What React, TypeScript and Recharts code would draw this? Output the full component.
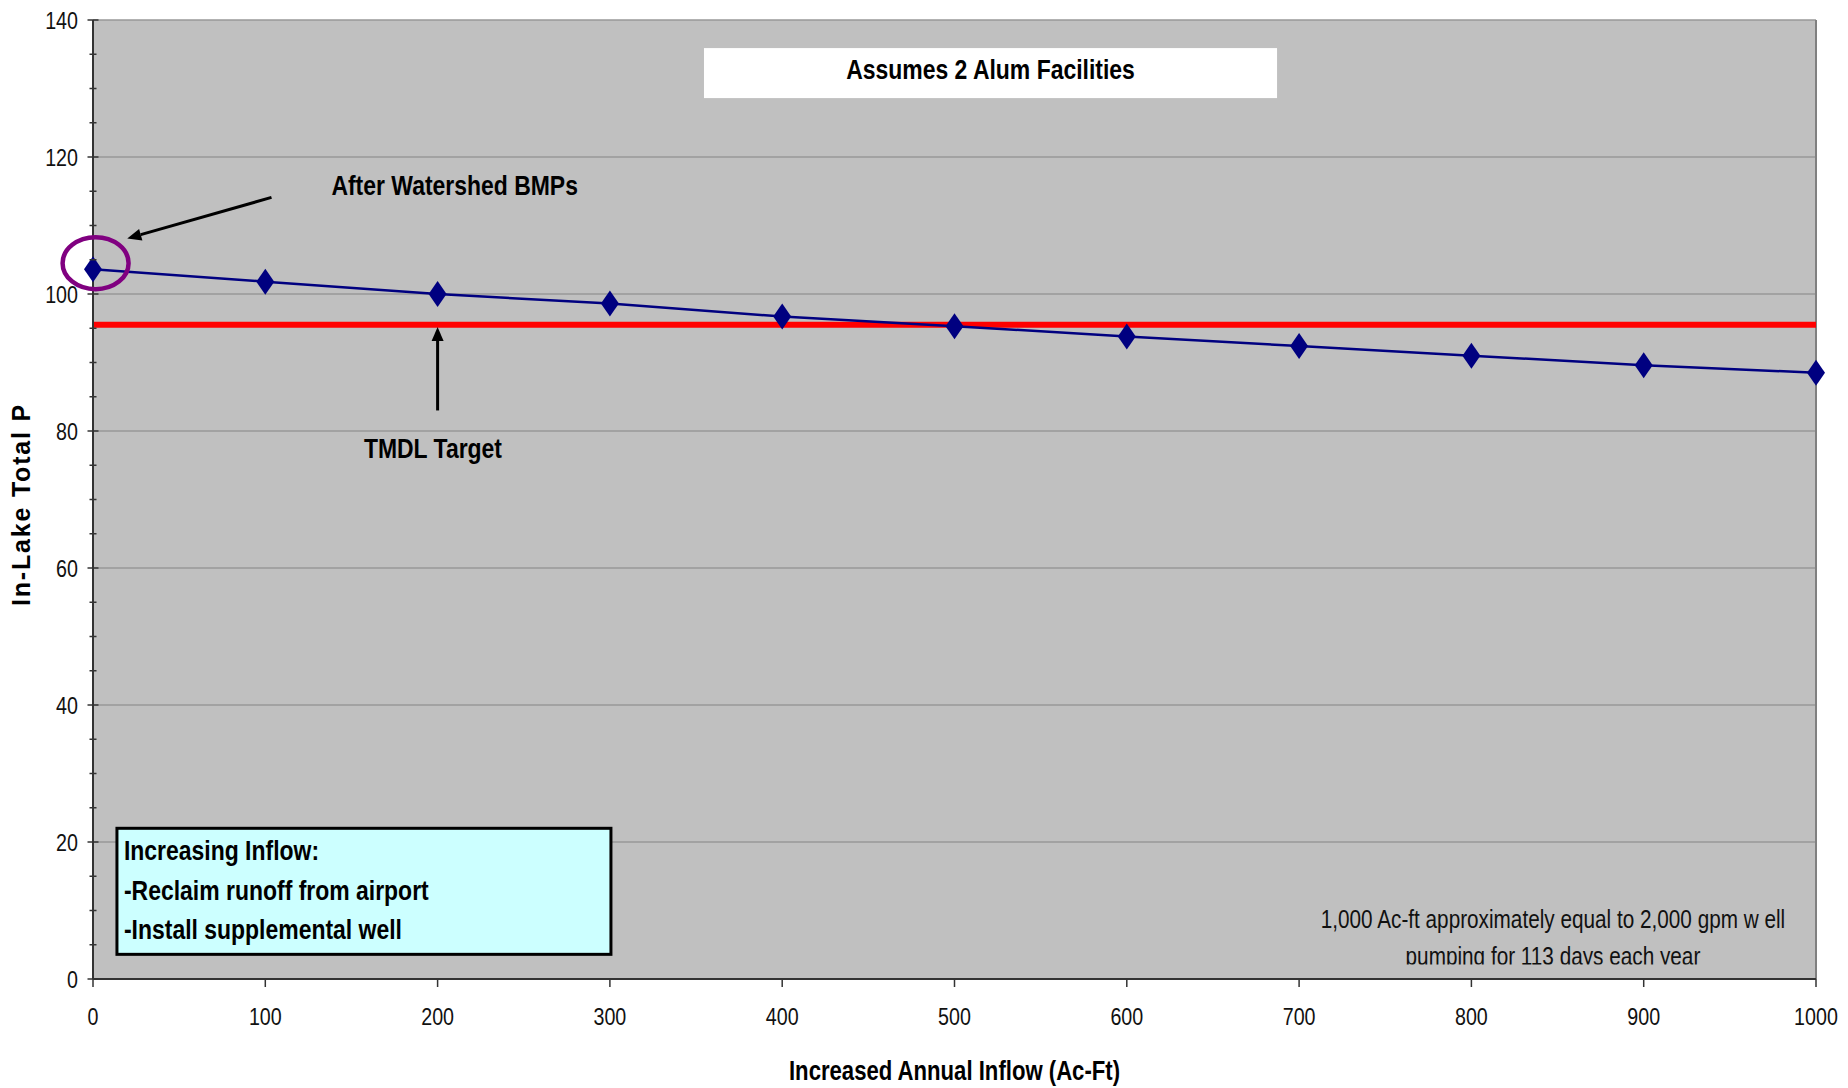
import React from 'react';
import {
  LineChart,
  Line,
  XAxis,
  YAxis,
  CartesianGrid,
  ReferenceLine,
  ReferenceDot,
  ReferenceArea,
  Label
} from 'recharts';

// increased annual inflow (ac-ft) vs in-lake total P
const inflow = [0, 100, 200, 300, 400, 500, 600, 700, 800, 900, 1000];
const totalP = [103.6, 101.8, 100.0, 98.6, 96.7, 95.3, 93.8, 92.4, 91.0, 89.6, 88.5];
const tmdlTarget = 95.5;

const xTicks = [0, 100, 200, 300, 400, 500, 600, 700, 800, 900, 1000];
const yMajorTicks = [0, 20, 40, 60, 80, 100, 120, 140];
const yAllTicks = [0, 5, 10, 15, 20, 25, 30, 35, 40, 45, 50, 55, 60, 65, 70, 75, 80, 85, 90, 95, 100, 105, 110, 115, 120, 125, 130, 135, 140];

const titleText = 'Assumes 2 Alum Facilities';
const bmpText = 'After Watershed BMPs';
const targetText = 'TMDL Target';
const infoLines = ['Increasing Inflow:', '-Reclaim runoff from airport', '-Install supplemental well'];
const noteLines = ['1,000 Ac-ft approximately equal to 2,000 gpm w ell', 'pumping for 113 days each year'];

const data = inflow.map((x, i) => ({ inflow: x, totalP: totalP[i] }));

const FONT = '"Liberation Sans", Arial, sans-serif';
const Y_TICK_GAP = 15;

// no Arial Narrow here, so squeeze Liberation Sans horizontally instead
function NText({ x, y, anchor = 'start', size, bold = false, fill = '#000', children }: any) {
  return (
    <text
      transform={`translate(${x},${y}) scale(0.82,1)`}
      x={0}
      y={0}
      dy="0.36em"
      textAnchor={anchor}
      fontSize={size}
      fontWeight={bold ? 'bold' : 'normal'}
      fontFamily={FONT}
      fill={fill}
    >
      {children}
    </text>
  );
}

function Diamond(props: any) {
  const { cx, cy } = props;
  if (cx == null || cy == null) return null;
  return (
    <polygon
      points={`${cx},${cy - 13} ${cx + 9},${cy} ${cx},${cy + 13} ${cx - 9},${cy}`}
      fill="#000080"
    />
  );
}

function YTick(props: any) {
  const { x, y, payload } = props;
  const ax = x + Y_TICK_GAP;
  const major = yMajorTicks.includes(payload.value);
  const len = major ? 5.5 : 3.5;
  return (
    <g>
      <line x1={ax - len} x2={ax + len} y1={y} y2={y} stroke="#333" strokeWidth={1.5} />
      {major && (
        <NText x={x} y={y} anchor="end" size={24} fill="#111">
          {payload.value}
        </NText>
      )}
    </g>
  );
}

function XTick(props: any) {
  const { x, y, payload } = props;
  return (
    <NText x={x} y={y + 7} anchor="middle" size={24} fill="#111">
      {payload.value}
    </NText>
  );
}

function Arrow(props: any) {
  const { x1, y1, x2, y2 } = props;
  const ang = Math.atan2(y2 - y1, x2 - x1);
  const c = Math.cos(ang);
  const s = Math.sin(ang);
  const bx = x2 - 14 * c;
  const by = y2 - 14 * s;
  return (
    <g>
      <line x1={x1} y1={y1} x2={bx} y2={by} stroke="#000" strokeWidth={3} />
      <polygon
        points={`${x2},${y2} ${bx - 6 * s},${by + 6 * c} ${bx + 6 * s},${by - 6 * c}`}
        fill="#000"
      />
    </g>
  );
}

function boldText(text: string) {
  return (props: any) => (
    <NText x={props.cx} y={props.cy} anchor="middle" size={28} bold>
      {text}
    </NText>
  );
}

function Ellipse(props: any) {
  return <ellipse cx={props.cx} cy={props.cy} rx={33} ry={26} fill="none" stroke="#800080" strokeWidth={4.5} />;
}

function TitleBox(props: any) {
  const { x, y, width, height } = props;
  return (
    <g>
      <rect x={x} y={y} width={width} height={height} fill="#fff" />
      <NText x={x + width / 2} y={y + height / 2 - 4} anchor="middle" size={28} bold>
        {titleText}
      </NText>
    </g>
  );
}

function InfoBox(props: any) {
  const { x, y, width, height } = props;
  return (
    <g>
      <rect x={x} y={y} width={width} height={height} fill="#CCFFFF" stroke="#000" strokeWidth={3} />
      {infoLines.map((t, i) => (
        <NText key={t} x={x + 7} y={y + 22 + i * 39.5} size={28} bold>
          {t}
        </NText>
      ))}
    </g>
  );
}

function NoteBox(props: any) {
  const { x, y, width, height } = props;
  return (
    <svg x={x} y={y} width={width} height={height} overflow="hidden">
      {noteLines.map((t, i) => (
        <NText key={t} x={width / 2 + 4} y={22 + i * 37} anchor="middle" size={25.3} fill="#111">
          {t}
        </NText>
      ))}
    </svg>
  );
}

function YTitle(props: any) {
  const { viewBox } = props;
  const cx = viewBox.x + 21;
  const cy = viewBox.y + viewBox.height / 2 + 5;
  return (
    <text
      x={cx}
      y={cy}
      dy="0.36em"
      textAnchor="middle"
      transform={`rotate(-90, ${cx}, ${cy})`}
      fontSize={25}
      fontWeight="bold"
      letterSpacing={1.8}
      fontFamily={FONT}
      fill="#000"
    >
      In-Lake Total P
    </text>
  );
}

function XTitle(props: any) {
  const { viewBox } = props;
  return (
    <NText x={viewBox.x + viewBox.width / 2} y={viewBox.y + 91} anchor="middle" size={27} bold>
      Increased Annual Inflow (Ac-Ft)
    </NText>
  );
}

export default function App() {
  return (
    <div style={{ position: 'absolute', left: 0, top: 0, background: '#fff' }}>
      <LineChart width={1848} height={1088} data={data} margin={{ top: 20, right: 32, bottom: 0, left: 0 }}>
        <CartesianGrid
          fill="#C0C0C0"
          stroke="#999"
          strokeWidth={1.5}
          vertical={false}
          horizontalValues={[20, 40, 60, 80, 100, 120, 140]}
        />
        <XAxis
          dataKey="inflow"
          type="number"
          domain={[0, 1000]}
          ticks={xTicks}
          interval={0}
          height={109}
          tickSize={8}
          tickMargin={22}
          axisLine={{ stroke: '#333', strokeWidth: 2 }}
          tickLine={{ stroke: '#333', strokeWidth: 1.5 }}
          tick={<XTick />}
        >
          <Label content={XTitle} />
        </XAxis>
        <YAxis
          type="number"
          domain={[0, 140]}
          ticks={yAllTicks}
          interval={0}
          width={93}
          tickSize={0}
          tickMargin={Y_TICK_GAP}
          tickLine={false}
          axisLine={{ stroke: '#333', strokeWidth: 2 }}
          tick={<YTick />}
        >
          <Label content={YTitle} />
        </YAxis>
        <ReferenceLine x={1000} stroke="#808080" strokeWidth={2} />
        <ReferenceLine y={tmdlTarget} stroke="#FF0000" strokeWidth={6} />
        <ReferenceArea x1={354.6} x2={687.2} y1={128.6} y2={135.9} shape={TitleBox} />
        <ReferenceArea x1={13.9} x2={300.6} y1={3.6} y2={22.0} shape={InfoBox} />
        <ReferenceArea x1={690} x2={1000} y1={2.1} y2={12} shape={NoteBox} />
        <ReferenceLine
          segment={[{ x: 103.6, y: 114.1 }, { x: 19.9, y: 108.1 }]}
          shape={Arrow}
        />
        <ReferenceLine
          segment={[{ x: 200, y: 83.0 }, { x: 200, y: 95.2 }]}
          shape={Arrow}
        />
        <ReferenceDot x={209.9} y={115.9} r={0} shape={boldText(bmpText)} />
        <ReferenceDot x={197.3} y={77.5} r={0} shape={boldText(targetText)} />
        <Line
          type="linear"
          dataKey="totalP"
          stroke="#000080"
          strokeWidth={2.5}
          dot={<Diamond />}
          activeDot={false}
          isAnimationActive={false}
        />
        <ReferenceDot x={1.5} y={104.5} r={0} shape={Ellipse} />
      </LineChart>
    </div>
  );
}
